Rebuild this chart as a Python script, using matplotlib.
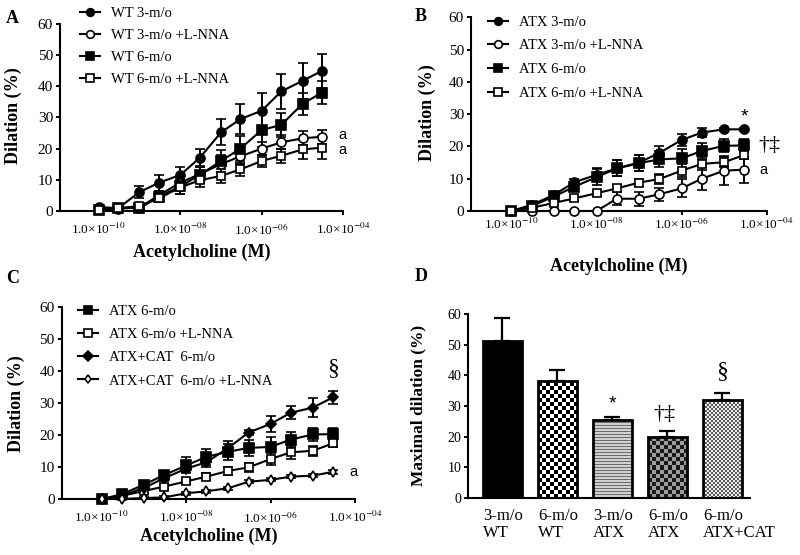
import numpy as np
import matplotlib
matplotlib.use("Agg")
import matplotlib.pyplot as plt

plt.rcParams['font.family'] = ['Liberation Serif', 'DejaVu Serif']
plt.rcParams['mathtext.fontset'] = 'stix'

# ---------------- data ----------------
ach = [1e-10, 3e-10, 1e-9, 3e-9, 1e-8, 3e-8, 1e-7, 3e-7, 1e-6, 3e-6, 1e-5, 3e-5]

wt3 = [1.2, 0.8, 6.0, 9.0, 11.5, 17.0, 25.2, 29.5, 32.2, 38.4, 41.8, 45.0]
wt3_err = [0.5, 0.6, 1.8, 2.5, 2.5, 3.0, 4.2, 4.8, 5.6, 5.6, 5.8, 5.5]
wt3_lnna = [0.5, 0.7, 1.0, 5.0, 9.0, 11.8, 15.0, 17.5, 20.0, 22.0, 23.3, 23.8]
wt3_lnna_err = [0.3, 0.4, 0.8, 1.5, 2.0, 2.5, 2.8, 2.5, 2.2, 2.3, 2.2, 2.2]
wt6 = [0.3, 1.0, 0.8, 4.5, 7.8, 11.5, 16.0, 20.0, 26.0, 27.6, 34.4, 38.0]
wt6_err = [0.3, 0.5, 0.8, 1.5, 2.5, 2.5, 3.5, 4.0, 5.5, 4.0, 3.5, 3.8]
wt6_lnna = [0.3, 0.8, 1.5, 4.0, 7.5, 9.8, 11.2, 13.3, 16.0, 17.7, 19.7, 20.3]
wt6_lnna_err = [0.3, 0.5, 0.8, 1.2, 2.0, 2.3, 2.3, 2.0, 2.0, 2.3, 3.2, 3.7]

atx3 = [0, 1.9, 5.0, 8.9, 11.2, 13.2, 15.0, 18.0, 22.0, 24.3, 25.3, 25.3]
atx3_err = [0.2, 0.4, 0.8, 1.0, 2.0, 2.5, 2.5, 2.0, 2.0, 1.5, 0.5, 0.5]
atx3_lnna = [0, 0, 0, 0, 0, 3.8, 3.8, 5.2, 7.0, 10.0, 12.5, 12.8]
atx3_lnna_err = [0, 0, 0, 0, 0, 2.0, 2.2, 2.0, 2.8, 3.5, 4.5, 4.0]
atx6 = [0, 1.5, 4.5, 7.5, 10.5, 13.2, 14.8, 16.0, 16.3, 18.6, 20.2, 20.3]
atx6_err = [0.2, 0.5, 1.0, 1.2, 2.5, 2.5, 2.5, 2.5, 3.0, 2.5, 2.0, 2.0]
atx6_lnna = [0, 1.0, 2.5, 3.9, 5.5, 7.0, 8.8, 9.9, 12.5, 14.6, 15.1, 17.4]
atx6_lnna_err = [0.2, 0.4, 0.6, 0.8, 0.8, 1.0, 1.2, 1.5, 2.0, 2.0, 1.5, 1.2]

atxcat6 = [0, 1.0, 3.5, 6.5, 9.5, 11.5, 16.0, 20.8, 23.5, 27.0, 28.6, 31.8]
atxcat6_err = [0.2, 0.3, 0.5, 0.8, 1.0, 1.5, 2.0, 0.8, 2.5, 2.0, 3.0, 2.0]
atxcat6_lnna = [0, 0, 0.3, 0.5, 1.8, 2.4, 3.4, 5.4, 6.0, 7.0, 7.3, 8.5]
atxcat6_lnna_err = [0.1, 0.1, 0.2, 0.3, 0.4, 0.4, 0.5, 0.5, 0.5, 0.5, 0.5, 0.6]

xtick_vals = [1e-10, 1e-8, 1e-6, 1e-4]
xtick_labels = ['1.0×10$^{-10}$', '1.0×10$^{-08}$', '1.0×10$^{-06}$', '1.0×10$^{-04}$']
ytick_vals = [0, 10, 20, 30, 40, 50, 60]

bar_labels = ['3-m/o\nWT', '6-m/o\nWT', '3-m/o\nATX', '6-m/o\nATX', '6-m/o\nATX+CAT']
max_dil = [51.3, 38.2, 25.4, 20.0, 32.0]
max_err = [7.6, 3.6, 1.1, 1.8, 2.1]

# ---------------- figure ----------------
fig = plt.figure(figsize=(8.0, 5.55), dpi=100)
W, H = 800.0, 555.0


def ax_at(l, r, b, t):
    return fig.add_axes([l / W, 1 - b / H, (r - l) / W, (b - t) / H])


def style_axes(ax, xpad, ysize=11):
    for s in ['top', 'right']:
        ax.spines[s].set_visible(False)
    for s in ['left', 'bottom']:
        ax.spines[s].set_linewidth(1.5)
    ax.set_ylim(0, 60)
    ax.set_yticks(ytick_vals)
    ax.tick_params(axis='y', length=3, width=1.4, pad=2, labelsize=ysize)
    ax.tick_params(axis='x', length=3, width=1.4, pad=xpad, labelsize=9.5)


def line_panel(ax, series, xpad):
    ax.set_xscale('log')
    handles = []
    for y, e, mk, mfc, ms, lab in series:
        c = ax.errorbar(ach, y, yerr=e, fmt='-', marker=mk, color='k', mfc=mfc, mec='k',
                        ms=ms, mew=1.2, lw=1.5, elinewidth=1.4, capsize=3.5, capthick=1.4,
                        clip_on=False, zorder=3)
        for art in c.lines[1] + c.lines[2]:
            art.set_clip_on(False)
        c.lines[0].set_clip_on(False)
        handles.append((c.lines[0], lab))
    ax.set_xlim(10 ** -10.95, 1e-4)
    ax.set_xticks(xtick_vals)
    ax.set_xticklabels(xtick_labels)
    ax.minorticks_off()
    style_axes(ax, xpad)
    ax.set_xlabel('Acetylcholine (M)', fontsize=13, fontweight='bold')
    ax.set_ylabel('Dilation (%)', fontsize=13, fontweight='bold')
    return handles


def add_legend(ax, handles, x, y, spacing):
    lg = ax.legend([h for h, _ in handles], [l for _, l in handles], loc='upper left',
                   bbox_to_anchor=(x / W, 1 - y / H), bbox_transform=fig.transFigure,
                   frameon=False, fontsize=10.5, handlelength=1.4, handletextpad=0.7,
                   labelspacing=spacing, borderpad=0, borderaxespad=0, markerscale=0.85)
    return lg


def note(ax, txt, xy, dx, dy, size=10.5, fam='Liberation Sans', ha='left', va='center'):
    ax.annotate(txt, xy=xy, xytext=(dx, dy), textcoords='offset points',
                va=va, ha=ha, fontsize=size, family=fam)


# Panel A
axA = ax_at(60, 343.3, 210.7, 24.3)
hA = line_panel(axA, [
    (wt3, wt3_err, 'o', 'k', 6.5, 'WT 3-m/o'),
    (wt3_lnna, wt3_lnna_err, 'o', 'w', 6.5, 'WT 3-m/o +L-NNA'),
    (wt6, wt6_err, 's', 'k', 6.5, 'WT 6-m/o'),
    (wt6_lnna, wt6_lnna_err, 's', 'w', 6.0, 'WT 6-m/o +L-NNA'),
], xpad=5)
add_legend(axA, hA, 80, 6.5, 0.62)
axA.xaxis.set_label_coords(0.5, -0.175)
axA.yaxis.set_label_coords(-0.135, 0.51)
note(axA, 'a', (ach[-1], wt3_lnna[-1]), 12, 1.5)
note(axA, 'a', (ach[-1], wt6_lnna[-1]), 12, -1.5)

# Panel B
axB = ax_at(471, 766.7, 211, 17.3)
hB = line_panel(axB, [
    (atx3, atx3_err, 'o', 'k', 6.5, 'ATX 3-m/o'),
    (atx3_lnna, atx3_lnna_err, 'o', 'w', 6.5, 'ATX 3-m/o +L-NNA'),
    (atx6, atx6_err, 's', 'k', 6.5, 'ATX 6-m/o'),
    (atx6_lnna, atx6_lnna_err, 's', 'w', 6.0, 'ATX 6-m/o +L-NNA'),
], xpad=1)
add_legend(axB, hB, 488, 15.5, 0.72)
axB.xaxis.set_label_coords(0.5, -0.24)
axB.yaxis.set_label_coords(-0.12, 0.51)
note(axB, '*', (ach[-1], atx3[-1]), 0, 9, size=14, ha='center', va='center')
note(axB, '†‡', (ach[-1], atx6[-1]), 10, 0, size=16, fam='Liberation Serif')
note(axB, 'a', (ach[-1], atx3_lnna[-1]), 11, 0)

# Panel C
axC = ax_at(61.7, 355, 499, 307.3)
hC = line_panel(axC, [
    (atx6, atx6_err, 's', 'k', 6.5, 'ATX 6-m/o'),
    (atx6_lnna, atx6_lnna_err, 's', 'w', 6.0, 'ATX 6-m/o +L-NNA'),
    (atxcat6, atxcat6_err, 'D', 'k', 5.5, 'ATX+CAT  6-m/o'),
    (atxcat6_lnna, atxcat6_lnna_err, 'd', 'w', 5.0, 'ATX+CAT  6-m/o +L-NNA'),
], xpad=5)
add_legend(axC, hC, 78, 305, 0.68)
axC.xaxis.set_label_coords(0.5, -0.15)
axC.yaxis.set_label_coords(-0.125, 0.5)
note(axC, '§', (ach[-1], atxcat6[-1]), 0, 13, size=17, fam='Liberation Serif', ha='center', va='bottom')
note(axC, 'a', (ach[-1], atxcat6_lnna[-1]), 12, 0)

# Panel D
axD = ax_at(468.3, 750, 497.7, 314.3)
pos = np.arange(len(max_dil))
bars = axD.bar(pos, max_dil, width=0.7, facecolor='none', edgecolor='k', linewidth=2, zorder=3)
axD.errorbar(pos, max_dil, yerr=[np.zeros(len(max_err)), max_err], fmt='none', ecolor='k',
             elinewidth=1.6, capsize=6, capthick=1.6, zorder=2)
axD.set_xlim(-0.62, 4.5)
axD.set_ylim(0, 60)
fig.canvas.draw()


def pattern(kind, h, w):
    ii, jj = np.mgrid[0:h, 0:w]
    img = np.ones((h, w, 3))
    if kind == 'solid':
        img[:] = 0.0
    elif kind == 'checker':
        m = ((ii // 4 + jj // 4) % 2) == 0
        img[m] = 0.0
        img[~m] = 1.0
    elif kind == 'stripes':
        m = (ii % 3) == 0
        img[m] = 0.42
        img[~m] = 0.82
    elif kind == 'darkchecker':
        m = ((ii // 4 + jj // 4) % 2) == 0
        img[m] = 0.1
        img[~m] = 0.62
    elif kind == 'finechecker':
        m = ((ii // 2 + jj // 2) % 2) == 0
        img[m] = 0.35
        img[~m] = 0.93
    return img


kinds = ['solid', 'checker', 'stripes', 'darkchecker', 'finechecker']
for b, kind in zip(bars, kinds):
    x0, w, h = b.get_x(), b.get_width(), b.get_height()
    p0 = axD.transData.transform((x0, 0))
    p1 = axD.transData.transform((x0 + w, h))
    wpx = max(int(round(p1[0] - p0[0])), 1)
    hpx = max(int(round(p1[1] - p0[1])), 1)
    im = axD.imshow(pattern(kind, hpx, wpx), extent=(x0, x0 + w, 0, h), origin='lower',
                    aspect='auto', interpolation='nearest', zorder=1)
    im.set_clip_path(b)
axD.set_xlim(-0.62, 4.5)
axD.set_ylim(0, 60)
axD.set_xticks(pos)
axD.set_xticklabels([''] * len(pos))
axD.set_xticks([pos[2]], minor=True)
style_axes(axD, 2, ysize=10)
axD.tick_params(axis='x', which='major', length=0)
axD.tick_params(axis='x', which='minor', length=4, width=1.4)
for b, lab in zip(bars, bar_labels):
    axD.text(b.get_x(), -0.055, lab, transform=axD.get_xaxis_transform(), ha='left', va='top',
             fontsize=12, linespacing=1.1)
axD.set_ylabel('Maximal dilation (%)', fontsize=12.5, fontweight='bold')
axD.yaxis.set_label_coords(-0.15, 0.505)
note(axD, '*', (pos[2], max_dil[2] + max_err[2]), 0, 9, size=14, ha='center', va='center')
note(axD, '†‡', (pos[3], max_dil[3] + max_err[3]), -2, 5, size=16, fam='Liberation Serif',
     ha='center', va='bottom')
note(axD, '§', (pos[4], max_dil[4] + max_err[4]), 0, 8, size=17, fam='Liberation Serif',
     ha='center', va='bottom')

# Panel letters
for lab, x, y in [('A', 6, 10), ('B', 415, 8), ('C', 6, 270), ('D', 415, 268)]:
    fig.text(x / W, 1 - y / H, lab, fontsize=13, fontweight='bold', va='top', ha='left')

fig.savefig('out.png', dpi=100)
